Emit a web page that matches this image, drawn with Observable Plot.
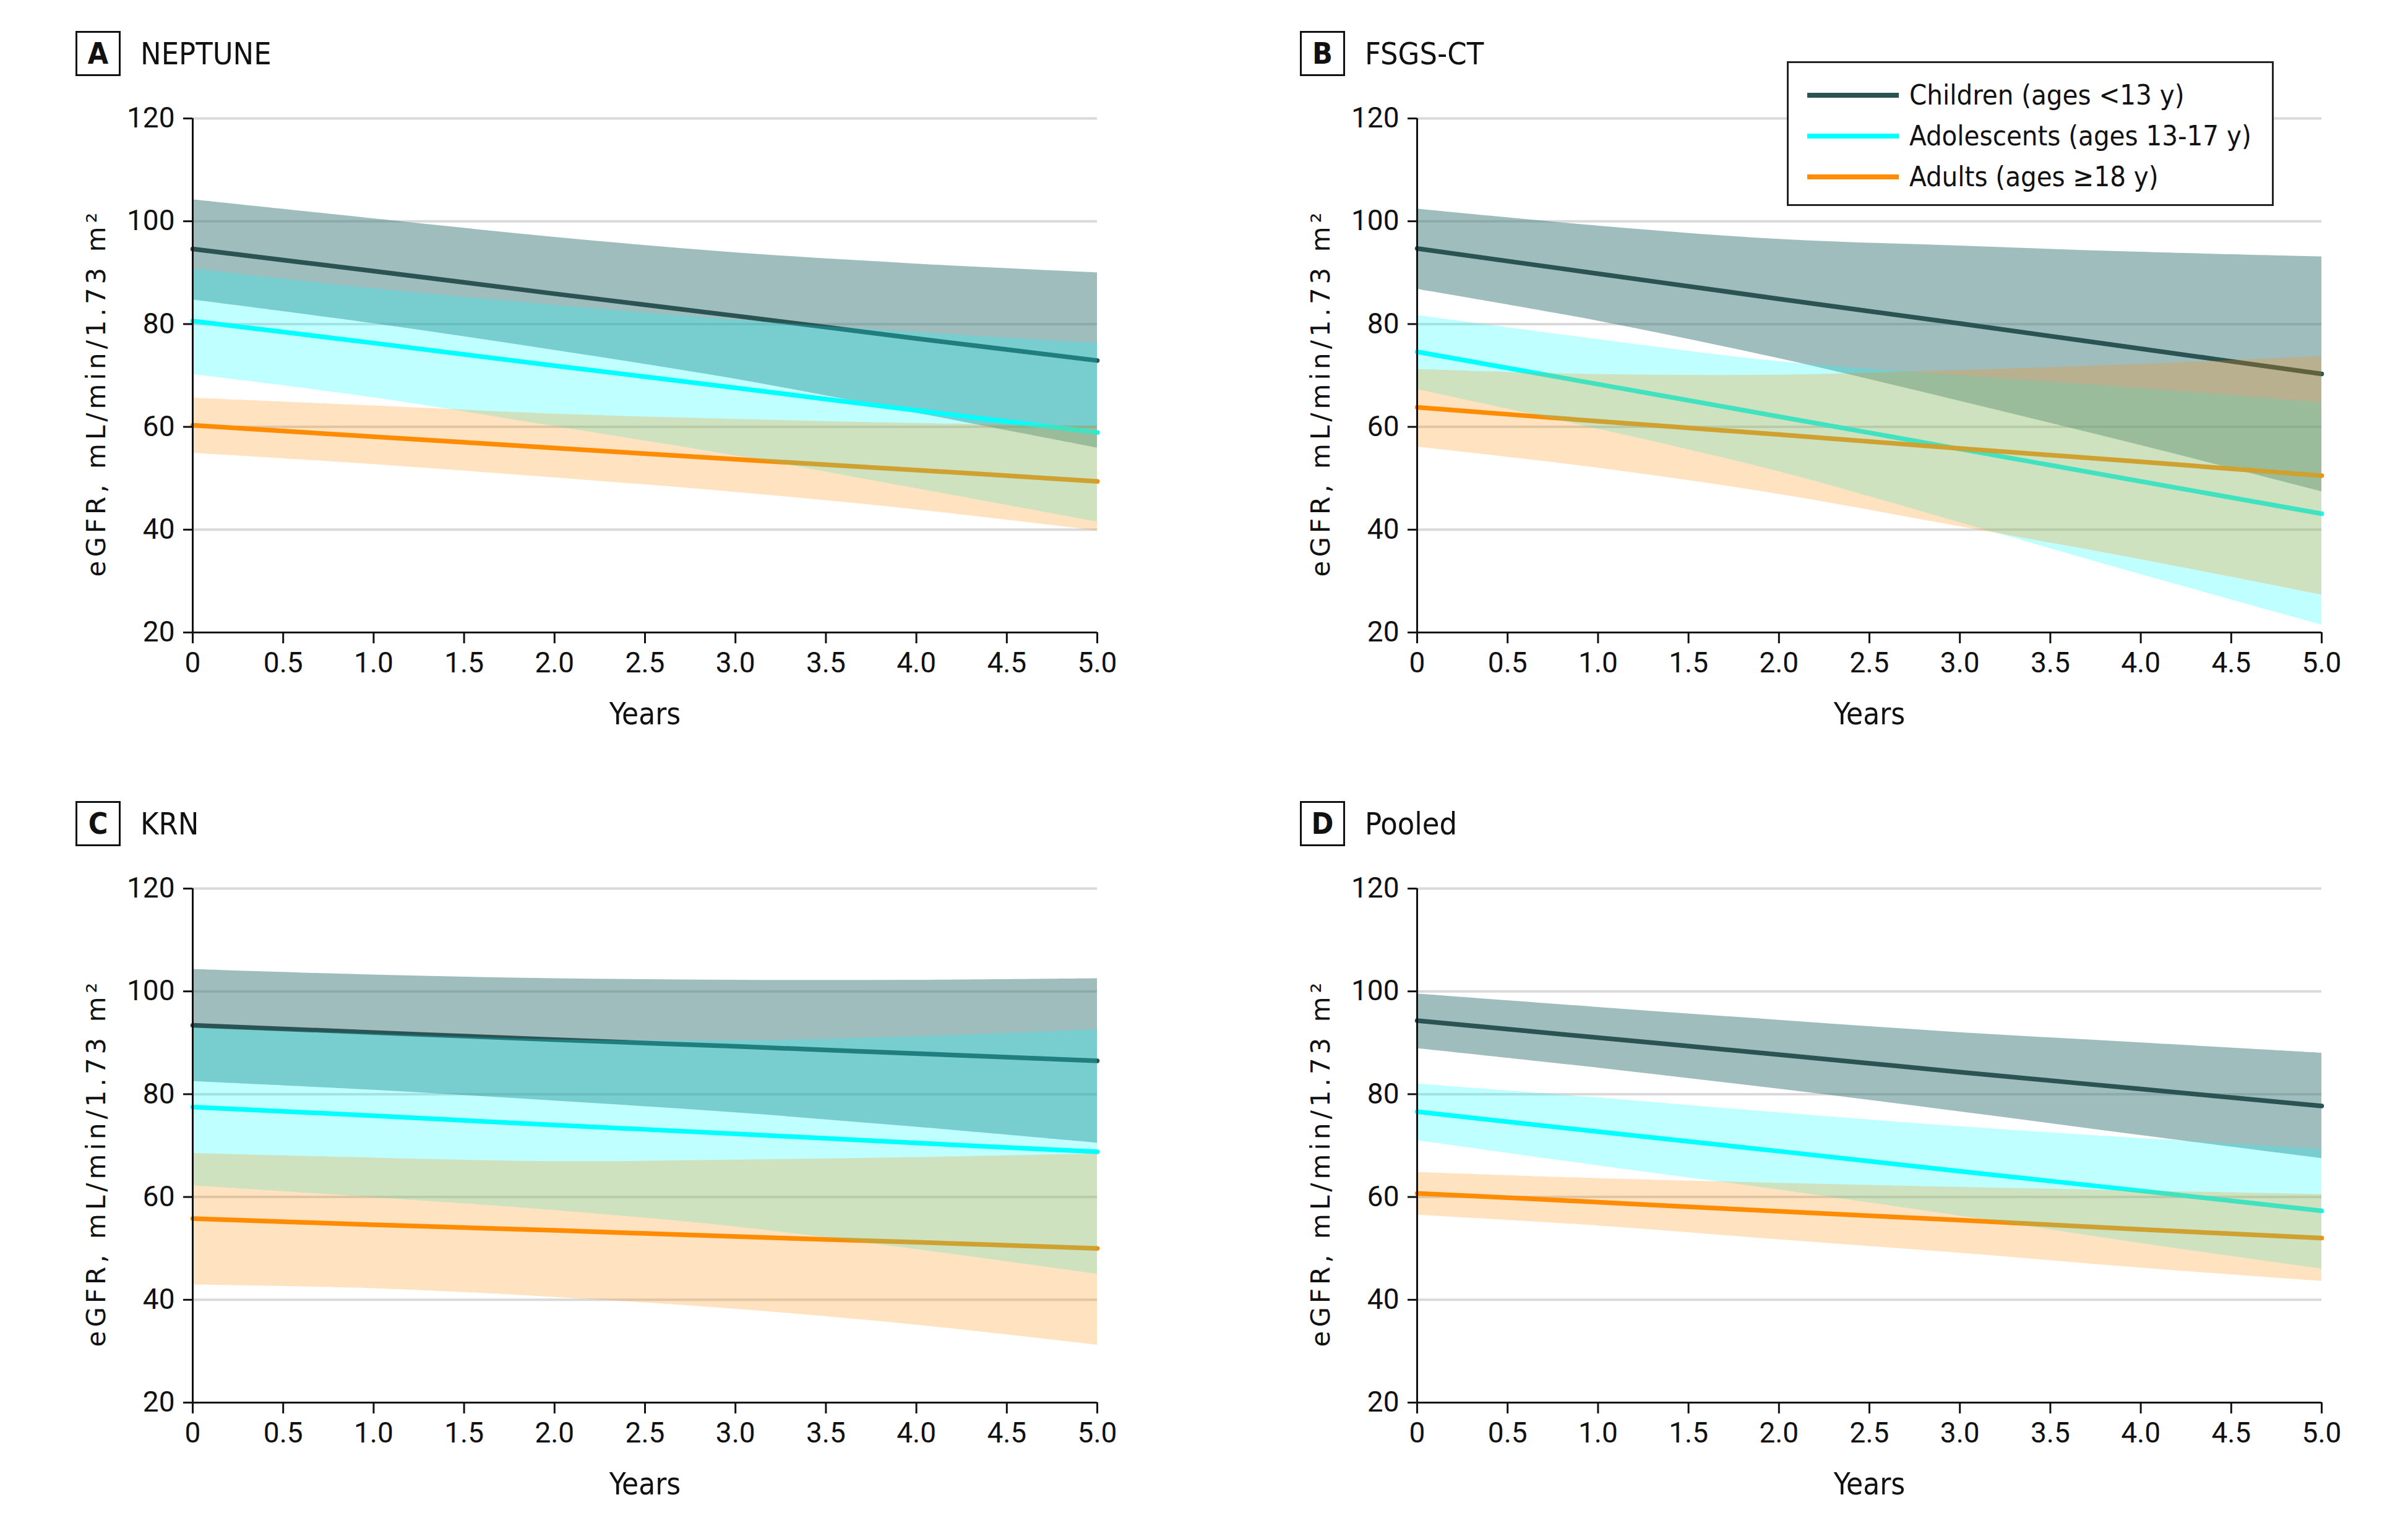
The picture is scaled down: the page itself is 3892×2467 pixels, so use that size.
<!DOCTYPE html>
<html>
<head>
<meta charset="utf-8">
<script src="https://cdn.jsdelivr.net/npm/d3@7"></script>
<script src="https://cdn.jsdelivr.net/npm/@observablehq/plot@0.6"></script>
<style>
  html, body { margin: 0; padding: 0; background: #fff; }
  body { width: 3892px; height: 2467px; position: relative; overflow: hidden;
         font-family: "Liberation Sans Narrow", "DejaVu Sans Condensed", sans-serif; color: #111; }
  .panel { position: absolute; width: 1950px; height: 1245px; }
  .box { position: absolute; left: 122px; top: 50px; width: 67px; height: 67px; border: 3px solid #111;
         font-weight: bold; font-size: 48px; line-height: 67px; text-align: center; }
  .ptitle { position: absolute; left: 227px; top: 52px; font-size: 50px; line-height: 70px; }
  .chart { position: absolute; left: 0; top: 140px; }
  g[aria-label$="tick label"] { font-family: Roboto, "Noto Sans", sans-serif; }
  .legend { position: absolute; left: 2888px; top: 99px; width: 781px; height: 228px; border: 3px solid #222; background: #fff; }
  .legend .row { position: absolute; left: 0; height: 60px; width: 100%; }
  .legend .sw { position: absolute; left: 30px; top: 26px; width: 148px; height: 8px; }
  .legend .lab { position: absolute; left: 195px; top: 0; font-size: 45px; line-height: 60px; white-space: nowrap; }
</style>
</head>
<body>
<script>
// ---------- data ----------
const years = [0, 1, 2, 3, 4, 5];
const xTicks = [0, 0.5, 1, 1.5, 2, 2.5, 3, 3.5, 4, 4.5, 5];
const yTicks = [20, 40, 60, 80, 100, 120];
const gridTicks = [40, 60, 80, 100, 120];
const groups = ["Children (ages <13 y)", "Adolescents (ages 13-17 y)", "Adults (ages \u226518 y)"];
const panelLetters = ["A", "B", "C", "D"];
const panelNames = ["NEPTUNE", "FSGS-CT", "KRN", "Pooled"];

// NEPTUNE
const A_childMean = [94.6, 90.3, 85.9, 81.6, 77.2, 72.9];
const A_childLo   = [84.7, 80.1, 74.9, 69.3, 62.7, 55.9];
const A_childHi   = [104.2, 100.5, 96.9, 93.9, 91.7, 90.0];
const A_adolMean  = [80.6, 76.3, 71.9, 67.6, 63.2, 58.9];
const A_adolLo    = [70.2, 65.7, 60.1, 54.4, 48.0, 41.5];
const A_adolHi    = [90.8, 86.9, 83.7, 80.8, 78.4, 76.3];
const A_adultMean = [60.3, 58.1, 55.9, 53.7, 51.6, 49.4];
const A_adultLo   = [54.9, 52.7, 50.1, 47.3, 43.9, 39.8];
const A_adultHi   = [65.6, 64.1, 62.5, 61.5, 60.7, 60.1];
// FSGS-CT
const B_childMean = [94.7, 89.8, 84.9, 80.1, 75.2, 70.3];
const B_childLo   = [86.8, 80.6, 73.3, 65.0, 56.4, 47.4];
const B_childHi   = [102.4, 99.1, 96.5, 95.2, 94.0, 93.1];
const B_adolMean  = [74.6, 68.3, 62.0, 55.7, 49.4, 43.1];
const B_adolLo    = [67.3, 59.6, 51.3, 41.4, 31.3, 21.5];
const B_adolHi    = [81.7, 77.0, 72.7, 70.0, 67.5, 64.7];
const B_adultMean = [63.8, 61.1, 58.5, 55.8, 53.2, 50.5];
const B_adultLo   = [56.1, 52.0, 46.9, 40.6, 34.2, 27.3];
const B_adultHi   = [71.2, 70.2, 70.1, 71.0, 72.2, 73.7];
// KRN
const C_childMean = [93.4, 92.0, 90.6, 89.3, 87.9, 86.5];
const C_childLo   = [82.5, 80.8, 78.7, 76.4, 73.6, 70.5];
const C_childHi   = [104.3, 103.2, 102.5, 102.2, 102.2, 102.5];
const C_adolMean  = [77.5, 75.8, 74.0, 72.3, 70.5, 68.8];
const C_adolLo    = [62.2, 59.9, 57.4, 54.2, 49.8, 45.0];
const C_adolHi    = [92.9, 91.7, 90.6, 90.4, 91.2, 92.6];
const C_adultMean = [55.8, 54.6, 53.5, 52.3, 51.2, 50.0];
const C_adultLo   = [42.9, 42.2, 40.5, 38.2, 35.1, 31.2];
const C_adultHi   = [68.5, 67.6, 66.9, 67.2, 67.7, 68.4];
// Pooled
const D_childMean = [94.3, 91.0, 87.7, 84.3, 81.0, 77.7];
const D_childLo   = [88.9, 85.1, 81.0, 76.6, 72.0, 67.5];
const D_childHi   = [99.5, 96.9, 94.4, 92.0, 90.0, 88.0];
const D_adolMean  = [76.6, 72.7, 68.9, 65.0, 61.2, 57.3];
const D_adolLo    = [71.0, 66.1, 61.4, 56.3, 51.0, 46.0];
const D_adolHi    = [82.0, 79.3, 76.4, 73.7, 71.4, 69.3];
const D_adultMean = [60.7, 59.0, 57.2, 55.5, 53.7, 52.0];
const D_adultLo   = [56.5, 54.4, 51.7, 49.1, 46.2, 43.6];
const D_adultHi   = [64.8, 63.6, 62.7, 61.9, 61.2, 60.5];

// ---------- styles ----------
const lineColors = ["#2b5353", "#00ffff", "#ff8c00"];
const bandColors = ["#417b7d", "#00ffff", "#ff8c00"];
const bandOpacity = [0.5, 0.25, 0.25];
const narrowFont = '"Liberation Sans Narrow", "DejaVu Sans Condensed", sans-serif';
const tickFont = 'Roboto, "Noto Sans", sans-serif';
const wideFont = '"DejaVu Sans", Verdana, sans-serif';

const panelData = [
  [[A_childMean, A_childLo, A_childHi], [A_adolMean, A_adolLo, A_adolHi], [A_adultMean, A_adultLo, A_adultHi]],
  [[B_childMean, B_childLo, B_childHi], [B_adolMean, B_adolLo, B_adolHi], [B_adultMean, B_adultLo, B_adultHi]],
  [[C_childMean, C_childLo, C_childHi], [C_adolMean, C_adolLo, C_adolHi], [C_adultMean, C_adultLo, C_adultHi]],
  [[D_childMean, D_childLo, D_childHi], [D_adolMean, D_adolLo, D_adolHi], [D_adultMean, D_adultLo, D_adultHi]]
];
const offsets = [[0, 0], [1979, 0], [0, 1245], [1979, 1245]];

function rows(series) {
  const [m, lo, hi] = series;
  return years.map((x, i) => ({x, mean: m[i], lo: lo[i], hi: hi[i]}));
}

panelData.forEach((pd, p) => {
  const div = document.createElement("div");
  div.className = "panel";
  div.style.left = offsets[p][0] + "px";
  div.style.top = offsets[p][1] + "px";
  const box = document.createElement("div"); box.className = "box"; box.textContent = panelLetters[p];
  const ttl = document.createElement("div"); ttl.className = "ptitle"; ttl.textContent = panelNames[p];
  div.appendChild(box); div.appendChild(ttl);

  const g = pd.map(rows);
  const curve = "catmull-rom";
  const marks = [
    Plot.gridY(gridTicks, {stroke: "#d9d9d9", strokeOpacity: 1, strokeWidth: 4}),
    Plot.areaY(g[0], {x: "x", y1: "lo", y2: "hi", fill: bandColors[0], fillOpacity: bandOpacity[0], curve}),
    Plot.lineY(g[0], {x: "x", y: "mean", stroke: lineColors[0], strokeWidth: 7.5, curve}),
    Plot.lineY(g[1], {x: "x", y: "mean", stroke: lineColors[1], strokeWidth: 7.5, curve}),
    Plot.lineY(g[2], {x: "x", y: "mean", stroke: lineColors[2], strokeWidth: 7.5, curve}),
    Plot.areaY(g[1], {x: "x", y1: "lo", y2: "hi", fill: bandColors[1], fillOpacity: bandOpacity[1], curve}),
    Plot.areaY(g[2], {x: "x", y1: "lo", y2: "hi", fill: bandColors[2], fillOpacity: bandOpacity[2], curve}),
    Plot.ruleX([0], {stroke: "#111", strokeWidth: 3}),
    Plot.ruleY([20], {stroke: "#111", strokeWidth: 3}),
    Plot.axisY({ticks: yTicks, tickSize: 15, tickPadding: 14, strokeWidth: 3, label: null,
                fontSize: 46, fontFamily: tickFont}),
    Plot.axisX({ticks: xTicks, tickSize: 18, tickPadding: 14, strokeWidth: 3, label: null,
                fontSize: 46, fontFamily: tickFont,
                tickFormat: d => d === 0 ? "0" : d.toFixed(1)}),
    Plot.text(["eGFR, mL/min/1.73 m\u00b2"], {frameAnchor: "left", dx: -155, dy: 28, rotate: -90, text: d => d,
                fontFamily: wideFont, fontSize: 42, lineAnchor: "middle", textAnchor: "middle", fill: "#111"}),
    Plot.text(["Years"], {frameAnchor: "bottom", dy: 133, text: d => d, fontSize: 49,
                fontFamily: narrowFont, lineAnchor: "middle", fill: "#111"})
  ];
  const chart = Plot.plot({
    width: 1900, height: 1075,
    marginLeft: 311, marginRight: 127, marginTop: 51, marginBottom: 193,
    x: {domain: [0, 5]},
    y: {domain: [20, 120]},
    style: {fontFamily: narrowFont, fontSize: "46px", color: "#111", background: "transparent", overflow: "visible"},
    marks
  });
  chart.classList.add("chart");
  chart.querySelectorAll("text").forEach(t => {
    if (t.textContent.startsWith("eGFR")) t.style.letterSpacing = "6px";
  });
  div.appendChild(chart);
  document.body.appendChild(div);
});

// legend (in panel B)
const leg = document.createElement("div");
leg.className = "legend";
const rowTops = [22, 88, 154];
groups.forEach((name, i) => {
  const r = document.createElement("div"); r.className = "row"; r.style.top = rowTops[i] + "px";
  const sw = document.createElement("div"); sw.className = "sw"; sw.style.background = lineColors[i];
  const lab = document.createElement("div"); lab.className = "lab"; lab.textContent = name;
  r.appendChild(sw); r.appendChild(lab); leg.appendChild(r);
});
document.body.appendChild(leg);
</script>
</body>
</html>
